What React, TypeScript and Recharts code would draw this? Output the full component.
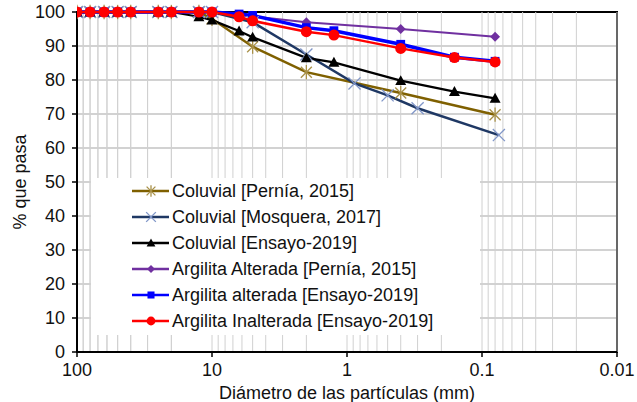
import React from 'react';
import { LineChart, Line, XAxis, YAxis, CartesianGrid, Legend, ReferenceArea, ReferenceLine } from 'recharts';

// sieve openings (mm) and % passing
const sievesEnsayo = [100, 80, 63, 50, 40, 25, 20, 12.5, 10, 6.3, 5, 2, 1.25, 0.4, 0.16, 0.08];
const coluvialEnsayo = [100, 100, 100, 100, 100, 100, 100, 98.6, 97.6, 94.4, 92.6, 86.5, 85.2, 79.8, 76.6, 74.6];
const argAlteradaEnsayo = [100, 100, 100, 100, 100, 100, 100, 100, 100, 99.4, 99.0, 95.4, 94.5, 90.5, 86.7, 85.5];
const argInalteradaEnsayo = [100, 100, 100, 100, 100, 100, 100, 100, 100, 98.6, 97.4, 94.2, 93.2, 89.3, 86.6, 85.3];

const sievesColPernia = [100, 80, 63, 50, 40, 25, 20, 12.5, 10, 5, 2, 0.4, 0.08];
const coluvialPernia = [100, 100, 100, 100, 100, 100, 100, 100, 98, 89.8, 82.3, 76.2, 69.8];

const sievesArgPernia = [100, 80, 63, 50, 40, 25, 20, 12.5, 10, 2, 0.4, 0.08];
const argAlteradaPernia = [100, 100, 100, 100, 100, 100, 100, 100, 100, 97, 95, 92.7];

const sievesMosquera = [100, 80, 63, 50, 40, 25, 20, 12.5, 10, 5, 2, 0.88, 0.5, 0.3, 0.075];
const coluvialMosquera = [100, 100, 100, 100, 100, 100, 100, 100, 100, 97, 87.5, 79, 75.5, 71.7, 63.8];

const xTicks = [100, 10, 1, 0.1, 0.01];
const yTicks = [0, 10, 20, 30, 40, 50, 60, 70, 80, 90, 100];
// log grid: 2..9 of every decade plus the decades themselves
const minorGrid = [10, 1, 0.1, 0.01].flatMap((d) => [1, 2, 3, 4, 5, 6, 7, 8, 9].map((m) => m * d)).concat([20, 30, 40, 50, 60, 70, 80, 90]);

type Shape = 'star' | 'x' | 'triangle' | 'diamond' | 'square' | 'circle';

const zip = (xs: number[], ys: number[]) => xs.map((x, i) => ({ x, y: ys[i] }));

const SERIES = [
  { name: 'Coluvial [Pernía, 2015]', data: zip(sievesColPernia, coluvialPernia), color: '#7f6000', mark: '#a89048', shape: 'star' as Shape, width: 2.5 },
  { name: 'Coluvial [Mosquera, 2017]', data: zip(sievesMosquera, coluvialMosquera), color: '#1f3864', mark: '#8096c8', shape: 'x' as Shape, width: 2.5 },
  { name: 'Coluvial [Ensayo-2019]', data: zip(sievesEnsayo, coluvialEnsayo), color: '#000000', mark: '#000000', shape: 'triangle' as Shape, width: 2.25 },
  { name: 'Argilita Alterada [Pernía, 2015]', data: zip(sievesArgPernia, argAlteradaPernia), color: '#7030a0', mark: '#7030a0', shape: 'diamond' as Shape, width: 2 },
  { name: 'Argilita alterada [Ensayo-2019]', data: zip(sievesEnsayo, argAlteradaEnsayo), color: '#0000ff', mark: '#0000ff', shape: 'square' as Shape, width: 3.5 },
  { name: 'Argilita Inalterada [Ensayo-2019]', data: zip(sievesEnsayo, argInalteradaEnsayo), color: '#ff0000', mark: '#ff0000', shape: 'circle' as Shape, width: 2.5 },
];

function Marker({ cx, cy, shape, color, s = 1 }: { cx: number; cy: number; shape: Shape; color: string; s?: number }) {
  const r = 5.5 * s;
  switch (shape) {
    case 'star':
      return (
        <g stroke={color} strokeWidth={1.3}>
          <line x1={cx - r} y1={cy - r} x2={cx + r} y2={cy + r} />
          <line x1={cx - r} y1={cy + r} x2={cx + r} y2={cy - r} />
          <line x1={cx} y1={cy - r * 1.3} x2={cx} y2={cy + r * 1.3} />
        </g>
      );
    case 'x':
      return (
        <g stroke={color} strokeWidth={1.3}>
          <line x1={cx - r * 1.1} y1={cy - r * 1.1} x2={cx + r * 1.1} y2={cy + r * 1.1} />
          <line x1={cx - r * 1.1} y1={cy + r * 1.1} x2={cx + r * 1.1} y2={cy - r * 1.1} />
        </g>
      );
    case 'triangle':
      return <polygon points={`${cx},${cy - r} ${cx + r},${cy + r * 0.8} ${cx - r},${cy + r * 0.8}`} fill={color} />;
    case 'diamond':
      return <polygon points={`${cx},${cy - r * 0.9} ${cx + r * 0.9},${cy} ${cx},${cy + r * 0.9} ${cx - r * 0.9},${cy}`} fill={color} />;
    case 'square':
      return <rect x={cx - r * 0.8} y={cy - r * 0.8} width={r * 1.6} height={r * 1.6} fill={color} />;
    default:
      return <circle cx={cx} cy={cy} r={r} fill={color} />;
  }
}

function LegendBox() {
  return (
    <div style={{ background: '#fff', width: 389, height: 157 }}>
      {SERIES.map((s) => (
        <div key={s.name} style={{ display: 'flex', alignItems: 'center', height: 26, fontSize: 18, color: '#111', whiteSpace: 'nowrap' }}>
          <svg width={78} height={20} style={{ flex: 'none' }}>
            <line x1={41} y1={10} x2={78} y2={10} stroke={s.color} strokeWidth={2.5} />
            <Marker cx={60} cy={10} shape={s.shape} color={s.mark} s={0.8} />
          </svg>
          <span style={{ marginLeft: 3 }}>{s.name}</span>
        </div>
      ))}
    </div>
  );
}

export default function App() {
  return (
    <div style={{ position: 'absolute', left: 0, top: 0, fontFamily: '"Liberation Sans", Arial, sans-serif' }}>
      <LineChart width={637} height={402} margin={{ top: 12, right: 20, left: 0, bottom: 0 }}>
        {minorGrid.map((v) => (
          <ReferenceLine key={v} x={v} stroke="#d0d0d0" strokeWidth={1} />
        ))}
        <CartesianGrid vertical={false} stroke="#a6a6a6" strokeWidth={1.2} />
        <XAxis
          dataKey="x"
          type="number"
          scale="log"
          domain={[0.01, 100]}
          reversed
          allowDataOverflow
          ticks={xTicks}
          tickFormatter={(v: number) => String(v)}
          height={50}
          tickSize={5}
          tickMargin={6}
          axisLine={{ stroke: '#000', strokeWidth: 2 }}
          tickLine={{ stroke: '#000', strokeWidth: 1.5 }}
          tick={{ fontSize: 18, fill: '#111' }}
          label={{ value: 'Diámetro de las partículas (mm)', position: 'insideBottom', offset: 3, fontSize: 18, fill: '#111' }}
        />
        <YAxis
          type="number"
          domain={[0, 100]}
          ticks={yTicks}
          width={77}
          tickSize={5}
          tickMargin={7}
          axisLine={{ stroke: '#000', strokeWidth: 2 }}
          tickLine={{ stroke: '#000', strokeWidth: 1.5 }}
          tick={{ fontSize: 18, fill: '#111' }}
          label={{ value: '% que pasa', angle: -90, position: 'insideLeft', offset: 20, fontSize: 18, fill: '#111', style: { textAnchor: 'middle' } }}
        />
        <ReferenceArea x1={0.01} x2={100} y1={0} y2={100} fill="none" stroke="#000" strokeWidth={2} ifOverflow="visible" />
        {SERIES.map((s) => (
          <Line
            key={s.name}
            data={s.data}
            dataKey="y"
            name={s.name}
            stroke={s.color}
            strokeWidth={s.width}
            isAnimationActive={false}
            dot={(p: any) => <Marker key={p.index} cx={p.cx} cy={p.cy} shape={s.shape} color={s.mark} />}
            activeDot={false}
          />
        ))}
        <Legend
          layout="vertical"
          align="center"
          verticalAlign="middle"
          wrapperStyle={{ left: 91, top: 178, width: 389, height: 157 }}
          content={() => <LegendBox />}
        />
      </LineChart>
    </div>
  );
}
